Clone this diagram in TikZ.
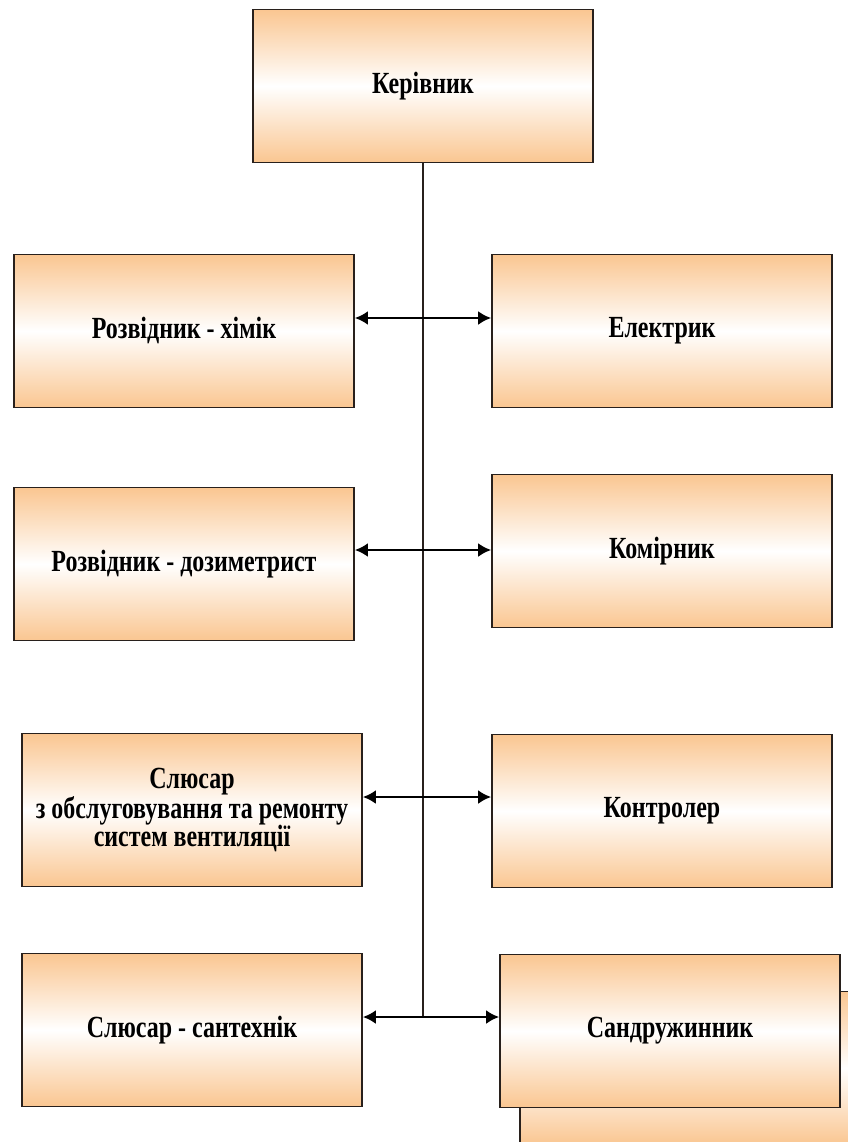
\documentclass[tikz,border=0pt]{standalone}
\usepackage{fontspec}
\setmainfont{Liberation Serif}[FakeStretch=0.78]
\usepackage{tikz}
\usetikzlibrary{calc, shapes, arrows, arrows.meta, positioning}

\definecolor{boxorange}{RGB}{250,198,145}
\definecolor{boxline}{RGB}{40,32,28}

\begin{document}
\begin{tikzpicture}[x=0.02cm, y=-0.02cm,
  post/.style={rectangle, draw=boxline, line width=1pt, minimum width=6.8cm, minimum height=3.06cm,
    top color=boxorange, bottom color=boxorange, middle color=white, align=center,
    font=\bfseries\fontsize{17.5}{16}\selectfont, inner sep=0pt},
  spine/.style={line width=0.8pt, draw=boxline},
  link/.style={line width=1.5pt, draw=black, {Latex[length=0.26cm,width=0.28cm]}-{Latex[length=0.26cm,width=0.28cm]}}]
\clip (0,0) rectangle (848,1142);
\useasboundingbox (0,0) rectangle (848,1142);
\fill[white] (0,0) rectangle (848,1142);

% head of the chart
\node[post] (boss) at (423,86) {Керівник};

% left column
\node[post] (himik) at (184,331) {Розвідник - хімік};
\node[post] (dozymetr) at (184,564) {Розвідник - дозиметрист};
\node[post] (slusar) at (192,810) {Слюсар\\з обслуговування та ремонту\\систем вентиляції};
\node[post] (santehnik) at (192,1030) {Слюсар - сантехнік};

% right column
\node[post] (elektryk) at (662,331) {Електрик};
\node[post] (komirnyk) at (662,551) {Комірник};
\node[post] (kontroler) at (662,811) {Контролер};
\node[post] (sandruzhback) at (690,1068) {};
\node[post] (sandruzh) at (670,1031) {Сандружинник};

% points on the spine
\coordinate (j1) at (423,318);
\coordinate (j2) at (423,550);
\coordinate (j3) at (423,797);
\coordinate (j4) at (423,1017);

\draw[spine] (boss.south) -- (j4);

\draw[link] (himik.east |- j1) -- (elektryk.west |- j1);
\draw[link] (dozymetr.east |- j2) -- (komirnyk.west |- j2);
\draw[link] (slusar.east |- j3) -- (kontroler.west |- j3);
\draw[link] (santehnik.east |- j4) -- (sandruzh.west |- j4);
\end{tikzpicture}
\end{document}
